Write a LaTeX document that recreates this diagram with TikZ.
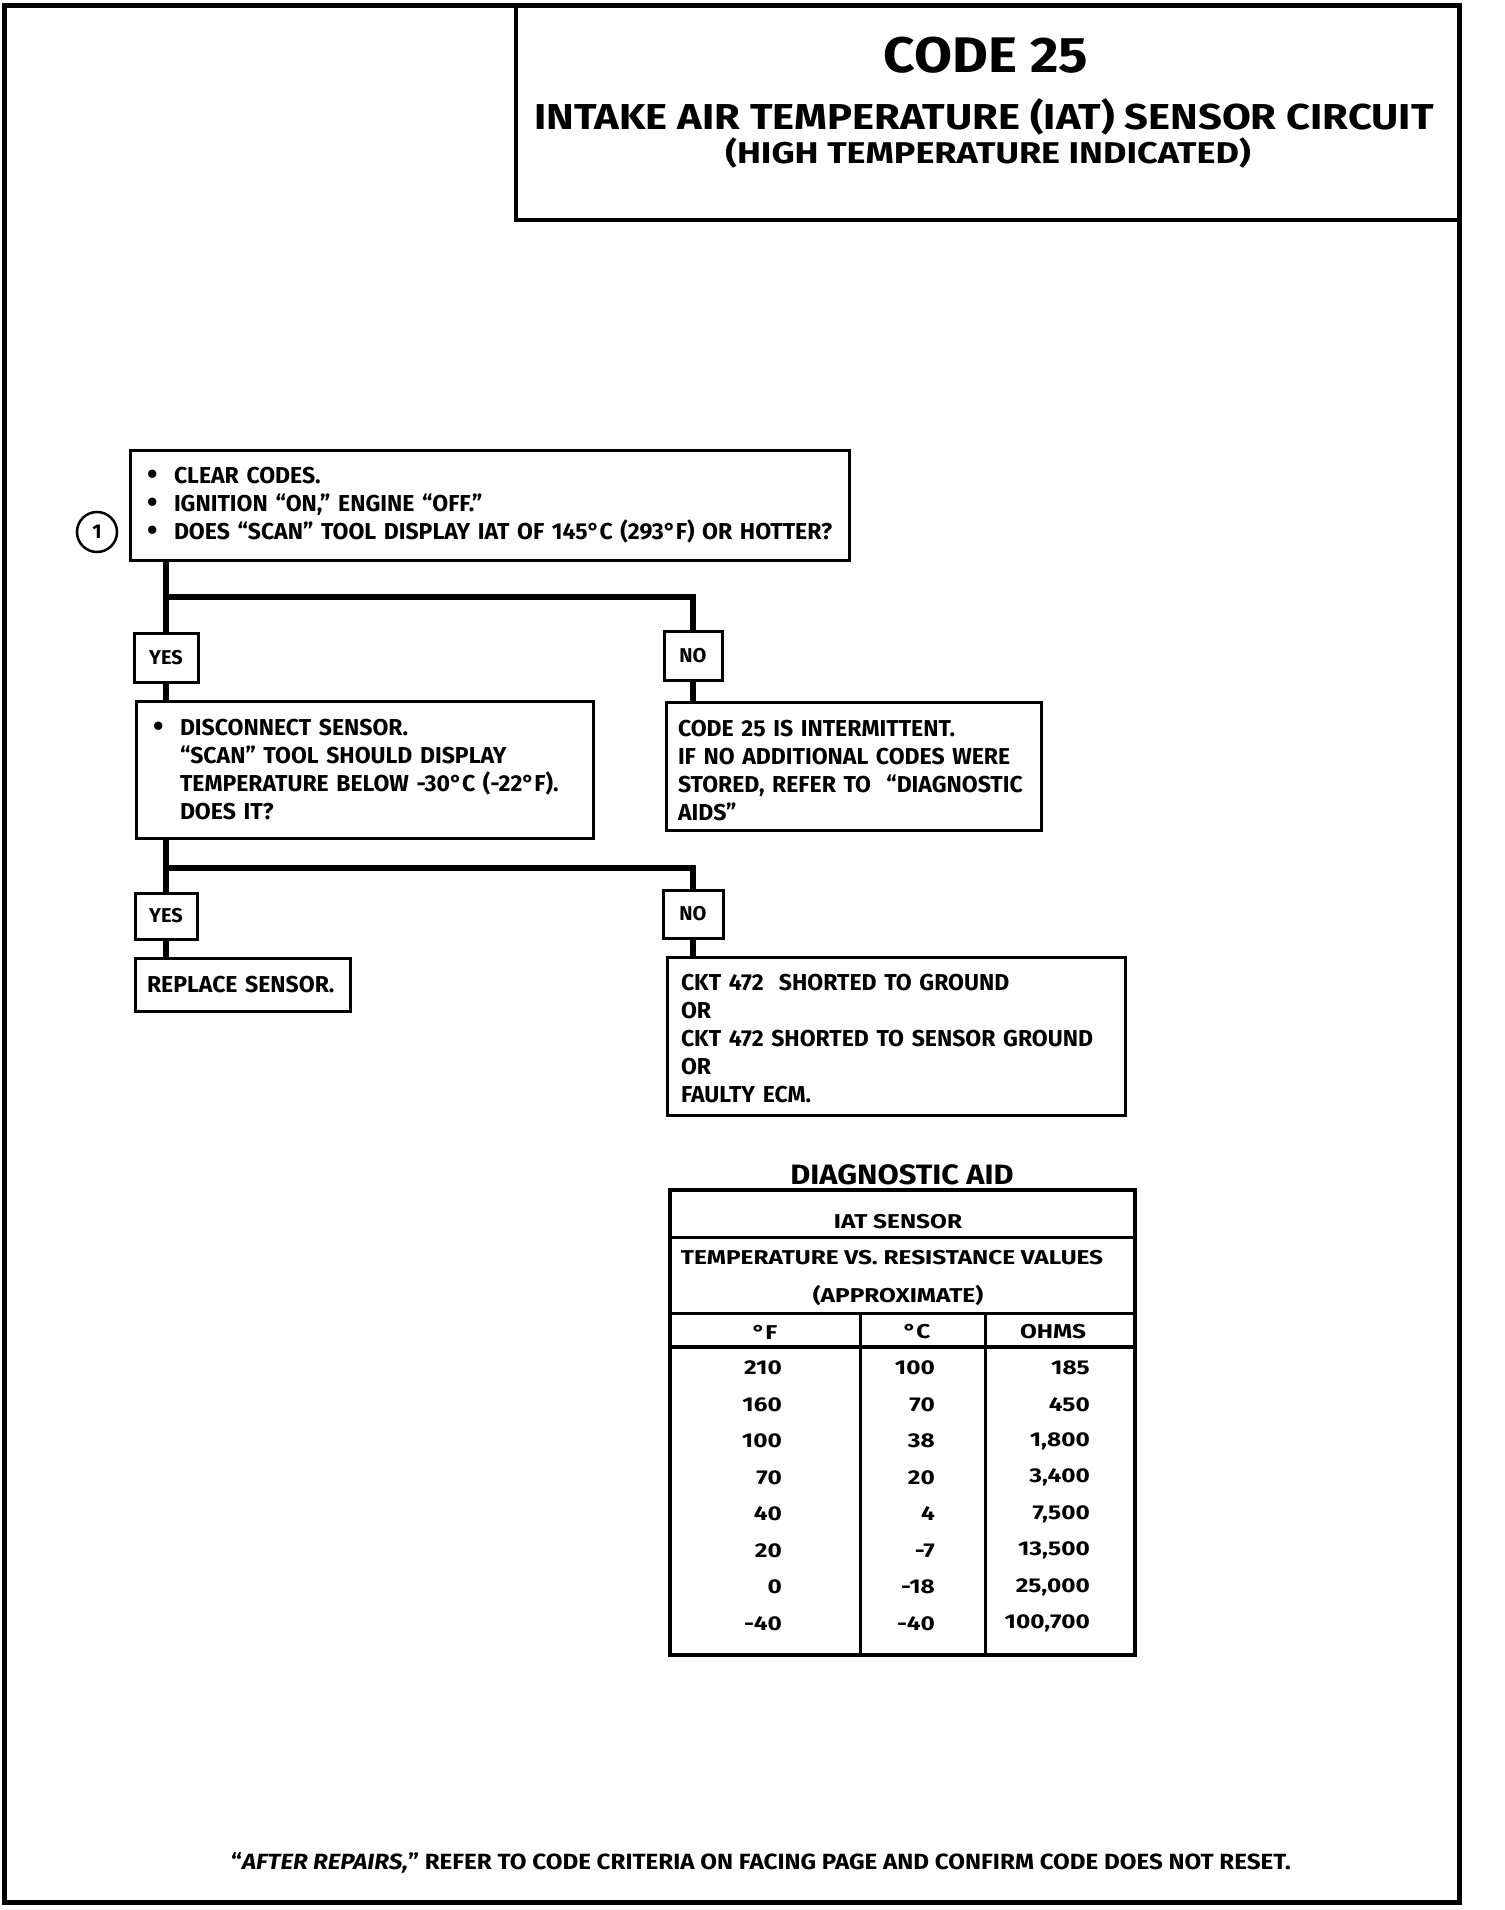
\documentclass[tikz,border=0pt]{standalone}
\usepackage{fontspec}
\setmainfont{Fira Sans}
\newcommand{\hsc}[2]{\scalebox{#1}[1]{#2}}
\newcommand{\bul}{\makebox[27pt][l]{\raisebox{-1pt}{\fontsize{30}{28}\selectfont •}}}
\begin{document}
\begin{tikzpicture}[x=1pt,y=-1pt,
  every node/.style={font=\bfseries},
  box/.style={draw, line width=3pt, inner sep=0pt, align=left},
  body/.style={font=\bfseries\fontsize{23}{28}\selectfont},
  lab/.style={draw, line width=3pt, inner sep=0pt, font=\bfseries\fontsize{20}{20}\selectfont},
  conn/.style={line width=6pt},
  tab/.style={font=\bfseries\fontsize{20}{20}\selectfont, inner sep=0pt},
  tline/.style={line width=3pt}]
\useasboundingbox (0,0) rectangle (1504,1910);
% page border and title box
\draw[line width=5pt] (4,6) rectangle (1459,1902);
\draw[line width=3.5pt] (516,6) rectangle (1459,220);
\node (t1) at (986,55) {\fontsize{50}{50}\selectfont\hsc{1.1}{CODE 25}};
\node (t2) at (984,117) {\fontsize{36}{36}\selectfont\hsc{1.16}{INTAKE AIR TEMPERATURE (IAT) SENSOR CIRCUIT}};
\node (t3) at (988,153) {\fontsize{30}{30}\selectfont\hsc{1.2}{(HIGH TEMPERATURE INDICATED)}};
% step 1
\node[box, body, minimum width=719pt, minimum height=110pt, text width=685pt] (b1) at (489.5,505)
 {\bul CLEAR CODES.\\
  \bul IGNITION “ON,” ENGINE “OFF.”\\
  \mbox{\bul DOES “SCAN” TOOL DISPLAY IAT OF 145°C (293°F) OR HOTTER?}};
\node[circle, draw, line width=2.5pt, minimum size=40pt, inner sep=0pt, font=\bfseries\fontsize{20}{20}\selectfont] (c1) at (97,532) {1};
\node[lab, minimum width=64pt, minimum height=49pt] (y1) at (166,657.5) {YES};
\node[lab, minimum width=58pt, minimum height=49pt] (n1) at (693,655.5) {NO};
\node[box, body, minimum width=457pt, minimum height=137pt, text width=423pt] (b2) at (364.5,770)
 {\bul DISCONNECT SENSOR.\\
  \hspace*{27pt}“SCAN” TOOL SHOULD DISPLAY\\
  \hspace*{27pt}TEMPERATURE BELOW -30°C (-22°F).\\
  \hspace*{27pt}DOES IT?};
\node[box, body, minimum width=375pt, minimum height=128pt, text width=351pt] (b3) at (853.5,766)
 {\rule{0pt}{25pt}CODE 25 IS INTERMITTENT.\\
  IF NO ADDITIONAL CODES WERE\\
  STORED, REFER TO ~“DIAGNOSTIC\\
  AIDS”};
\node[lab, minimum width=62pt, minimum height=46pt] (y2) at (166,916) {YES};
\node[lab, minimum width=60pt, minimum height=48pt] (n2) at (693,914) {NO};
\node[box, body, minimum width=215pt, minimum height=53pt, text width=191pt] (rep) at (242.5,984.5) {REPLACE SENSOR.};
\node[box, body, minimum width=458pt, minimum height=158pt, text width=430pt] (ckt) at (896,1036)
 {\rule{0pt}{21pt}CKT 472 ~SHORTED TO GROUND\\
  OR\\
  CKT 472 SHORTED TO SENSOR GROUND\\
  OR\\
  FAULTY ECM.};
% connectors
\coordinate (j1) at (166,597);
\coordinate (j2) at (166,868);
\draw[conn] (b1.south -| y1.north) -- (y1.north);
\draw[conn] (j1) -| (n1.north);
\draw[conn] (y1.south) -- (y1.south |- b2.north);
\draw[conn] (n1.south) -- (n1.south |- b3.north);
\draw[conn] (b2.south -| y2.north) -- (y2.north);
\draw[conn] (j2) -| (n2.north);
\draw[conn] (y2.south) -- (y2.south |- rep.north);
\draw[conn] (n2.south) -- (n2.south |- ckt.north);
% diagnostic aid table
\node (da) at (902,1175) {\fontsize{28}{28}\selectfont\hsc{1.1}{DIAGNOSTIC AID}};
\draw[line width=3.5pt] (670,1190) rectangle (1135,1655);
\draw[tline] (670,1237) -- (1135,1237);
\draw[tline] (670,1313) -- (1135,1313);
\draw[line width=4pt] (670,1347) -- (1135,1347);
\draw[tline] (860,1313) -- (860,1655);
\draw[tline] (985,1313) -- (985,1655);
\node[tab] (h1) at (898,1222) {\hsc{1.22}{IAT SENSOR}};
\node[tab] (h2) at (892,1258) {\hsc{1.22}{TEMPERATURE VS. RESISTANCE VALUES}};
\node[tab] (h3) at (898,1295) {\hsc{1.22}{(APPROXIMATE)}};
\node[tab] (hf) at (765,1332) {\hsc{1.22}{°F}};
\node[tab] (hc) at (917,1332) {\hsc{1.22}{°C}};
\node[tab] (ho) at (1053,1332) {\hsc{1.22}{OHMS}};
\foreach \f/\c/\o [count=\i from 0] in {210/100/185, 160/70/450, 100/38/{1,800}, 70/20/{3,400}, 40/4/{7,500}, 20/-7/{13,500}, 0/-18/{25,000}, -40/-40/{100,700}} {
  \node[tab, anchor=east] (rf\i) at (782,1368+36.5*\i) {\hsc{1.22}{\f}};
  \node[tab, anchor=east] (rc\i) at (935,1368+36.5*\i) {\hsc{1.22}{\c}};
  \node[tab, anchor=east] (ro\i) at (1090,1368+36.5*\i) {\hsc{1.22}{\o}};
}
% footer
\node (foot) at (761,1863) {\fontsize{22}{22}\selectfont\hsc{1.1}{“\textit{AFTER REPAIRS,}” REFER TO CODE CRITERIA ON FACING PAGE AND CONFIRM CODE DOES NOT RESET.}};
\end{tikzpicture}
\end{document}
